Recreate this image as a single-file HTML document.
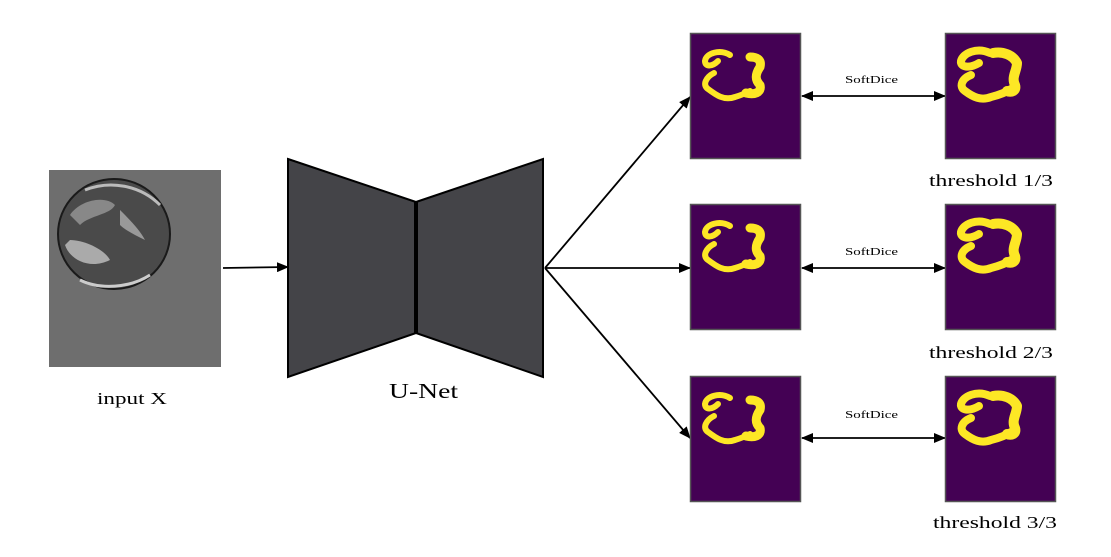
<!DOCTYPE html>
<html><head><meta charset="utf-8"><style>
html,body{margin:0;padding:0;background:#fff;}
svg{display:block;}
text{font-family:"Liberation Serif",serif;fill:#000;}
</style></head><body>
<svg width="1111" height="557" viewBox="0 0 1111 557" xmlns="http://www.w3.org/2000/svg">
<defs>
<marker id="ah" markerWidth="12" markerHeight="10" refX="11" refY="5" orient="auto" markerUnits="userSpaceOnUse">
<path d="M0,0 L12,5 L0,10 z" fill="#000"/></marker>
<marker id="ahs" markerWidth="12" markerHeight="10" refX="1" refY="5" orient="auto" markerUnits="userSpaceOnUse">
<path d="M12,0 L0,5 L12,10 z" fill="#000"/></marker>
<g id="pred">
<rect x="0.5" y="0.5" width="110" height="125" fill="#440154" stroke="#555" stroke-width="1.5"/>
<g fill="none" stroke="#fde725" stroke-linecap="round" stroke-linejoin="round">
<path d="M40,22 C30,16 16,20 15,28 C15,34 22,34 28,28" stroke-width="6"/>
<path d="M24,40 C16,44 12,52 18,56 C26,62 34,68 45,64 C52,62 56,60 60,58" stroke-width="6"/>
<path d="M60,24 C66,24 72,26 70,34 C66,40 64,46 70,52 C72,60 64,62 56,60" stroke-width="9"/>
</g>
</g>
<g id="gt">
<rect x="0.5" y="0.5" width="110" height="125" fill="#440154" stroke="#555" stroke-width="1.5"/>
<g fill="none" stroke="#fde725" stroke-linecap="round" stroke-linejoin="round">
<path d="M45,20 C32,14 18,20 16,28 C15,34 24,36 34,30" stroke-width="8"/>
<path d="M26,42 C16,46 14,54 20,58 C28,64 36,68 46,64 C54,62 60,60 66,56" stroke-width="8"/>
<path d="M48,20 C58,18 68,22 72,30 C72,38 66,44 70,52 C72,58 66,60 62,58" stroke-width="10"/>
</g>
</g>
</defs>

<rect x="49" y="170" width="172" height="197" fill="#6e6e6e"/>
<ellipse cx="114" cy="234" rx="56" ry="55" fill="#4a4a4a" stroke="#1a1a1a" stroke-width="2"/>
<path d="M70,215 C80,200 105,195 115,205 C110,215 90,215 80,225 Z" fill="#888"/>
<path d="M65,245 C70,260 90,270 110,260 C105,250 85,240 70,240 Z" fill="#aaa"/>
<path d="M120,210 C130,220 140,230 145,240 C135,235 125,230 120,225 Z" fill="#999"/>
<path d="M80,280 C100,290 130,288 150,275" stroke="#ccc" stroke-width="3" fill="none"/>
<path d="M85,190 C110,180 140,185 160,205" stroke="#bbb" stroke-width="3" fill="none"/>

<text x="97" y="404" font-size="17" textLength="70" lengthAdjust="spacingAndGlyphs">input X</text>

<polygon points="288,159 416,202 416,333 288,377" fill="#444448" stroke="#000" stroke-width="2"/>
<polygon points="416,202 543,159 543,377 416,333" fill="#444448" stroke="#000" stroke-width="2"/>
<line x1="416" y1="202" x2="416" y2="333" stroke="#000" stroke-width="4"/>
<text x="389" y="398" font-size="21" textLength="69" lengthAdjust="spacingAndGlyphs">U-Net</text>

<g stroke="#000" stroke-width="1.8" fill="none">
<line x1="223" y1="268" x2="288" y2="267" marker-end="url(#ah)"/>
<line x1="545" y1="268" x2="690" y2="97" marker-end="url(#ah)"/>
<line x1="545" y1="268" x2="690" y2="268" marker-end="url(#ah)"/>
<line x1="545" y1="268" x2="690" y2="438" marker-end="url(#ah)"/>
<line x1="802" y1="96" x2="945" y2="96" marker-start="url(#ahs)" marker-end="url(#ah)"/>
<line x1="802" y1="268" x2="945" y2="268" marker-start="url(#ahs)" marker-end="url(#ah)"/>
<line x1="802" y1="438" x2="945" y2="438" marker-start="url(#ahs)" marker-end="url(#ah)"/>
</g>

<use href="#pred" x="690" y="33"/>
<use href="#pred" x="690" y="204"/>
<use href="#pred" x="690" y="376"/>
<use href="#gt" x="945" y="33"/>
<use href="#gt" x="945" y="204"/>
<use href="#gt" x="945" y="376"/>

<text x="845" y="83" font-size="11" textLength="53" lengthAdjust="spacingAndGlyphs">SoftDice</text>
<text x="845" y="255" font-size="11" textLength="53" lengthAdjust="spacingAndGlyphs">SoftDice</text>
<text x="845" y="418" font-size="11" textLength="53" lengthAdjust="spacingAndGlyphs">SoftDice</text>

<text x="929" y="186" font-size="17" textLength="124" lengthAdjust="spacingAndGlyphs">threshold 1/3</text>
<text x="929" y="358" font-size="17" textLength="124" lengthAdjust="spacingAndGlyphs">threshold 2/3</text>
<text x="933" y="528" font-size="17" textLength="124" lengthAdjust="spacingAndGlyphs">threshold 3/3</text>
</svg>
</body></html>
